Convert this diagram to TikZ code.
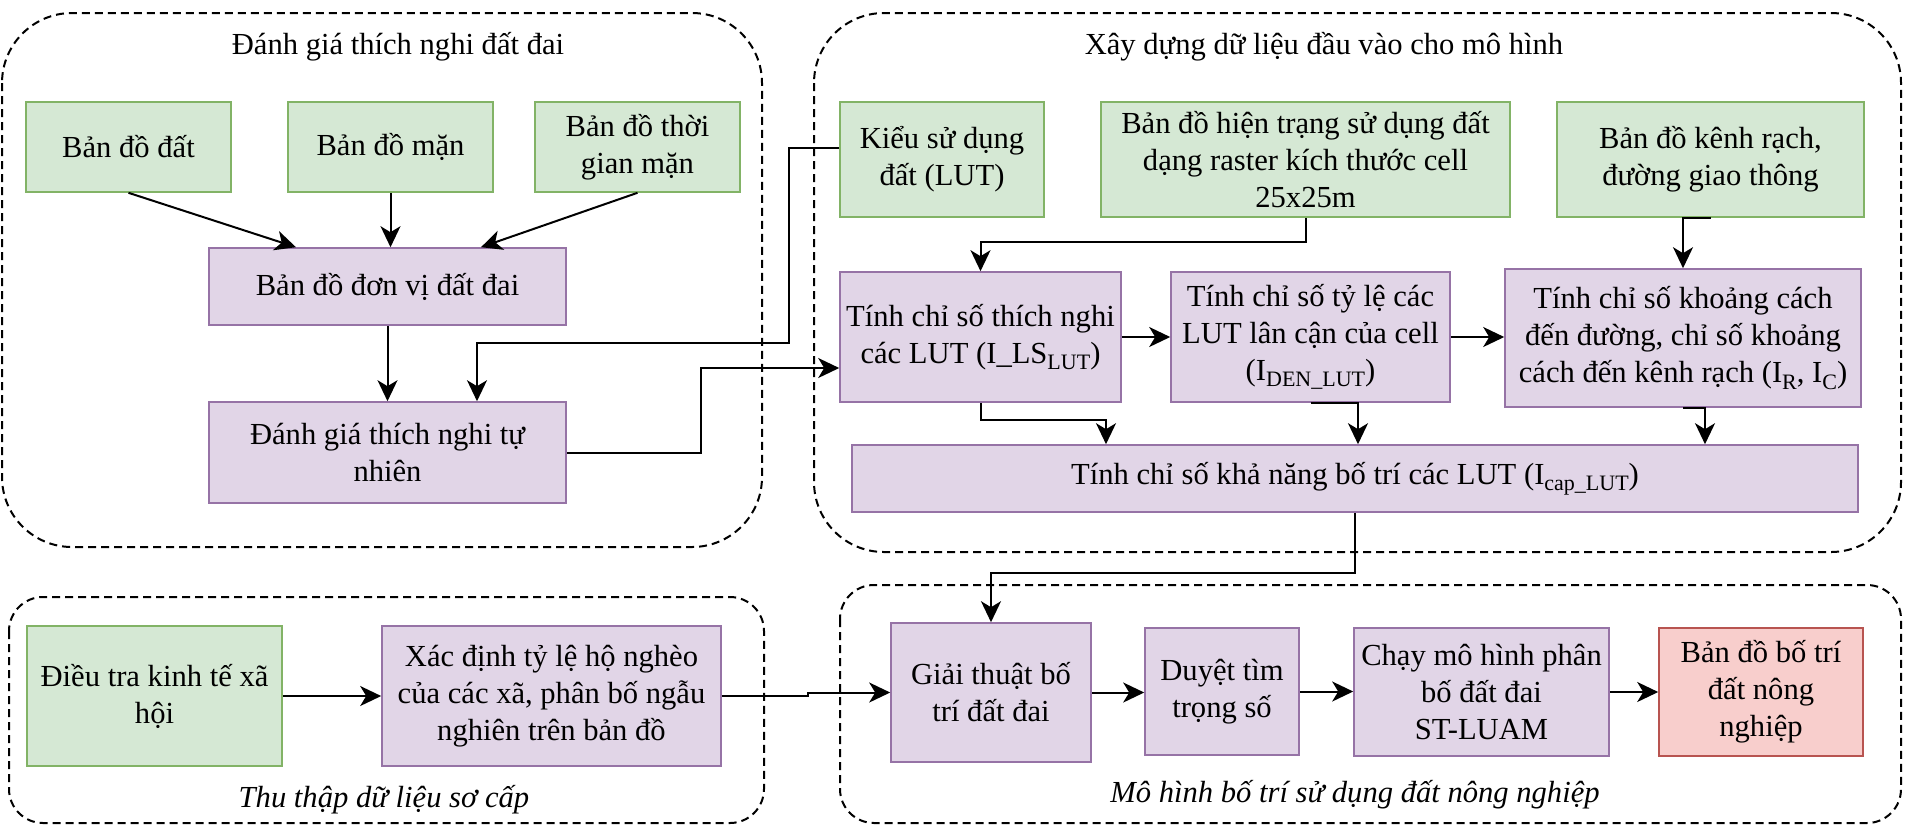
\documentclass[tikz,border=0pt]{standalone}
\usepackage{fontspec}
\setmainfont{Liberation Serif}
\usetikzlibrary{arrows.meta,calc}
\definecolor{gfill}{HTML}{D5E8D4}
\definecolor{gdraw}{HTML}{82B366}
\definecolor{pfill}{HTML}{E1D5E7}
\definecolor{pdraw}{HTML}{9673A6}
\definecolor{rfill}{HTML}{F8CECC}
\definecolor{rdraw}{HTML}{B85450}
\newcommand{\lsub}[1]{\raisebox{-0.45ex}{\fontsize{11}{11}\selectfont #1}}
\begin{document}
\begin{tikzpicture}[x=0.5pt,y=-0.5pt,
  box/.style={draw, line width=0.8pt, align=center, inner sep=2pt, font=\fontsize{15.3}{18.5}\selectfont},
  gbox/.style={box, fill=gfill, draw=gdraw},
  pbox/.style={box, fill=pfill, draw=pdraw},
  rbox/.style={box, fill=rfill, draw=rdraw},
  grp/.style={draw=black, line width=1pt, dash pattern=on 4pt off 2.5pt},
  arr/.style={draw, line width=1pt, -{Stealth[length=10.5pt,width=10pt,inset=3pt]}},
  lbl/.style={font=\fontsize{15.3}{18.5}\selectfont},
  ilbl/.style={font=\fontsize{15.3}{18.5}\selectfont\itshape}]
\useasboundingbox (0,0) rectangle (1905,827);
% groups
\draw[grp, rounded corners=35pt] (2,13) rectangle (762,547);
\draw[grp, rounded corners=35pt] (814,13) rectangle (1901,552);
\draw[grp, rounded corners=17pt] (9,597) rectangle (764,823);
\draw[grp, rounded corners=17pt] (840,585) rectangle (1901,823);
\node[lbl] (t1) at (398,47) {Đánh giá thích nghi đất đai};
\node[lbl] (t2) at (1324,47) {Xây dựng dữ liệu đầu vào cho mô hình};
\node[ilbl] (t3) at (384,800) {Thu thập dữ liệu sơ cấp};
\node[ilbl] (t4) at (1355,795) {Mô hình bố trí sử dụng đất nông nghiệp};
% nodes
\node[gbox, minimum width=102.5pt, minimum height=45pt] (dat) at (128.5,147) {Bản đồ đất};
\node[gbox, minimum width=102.5pt, minimum height=45pt] (man) at (390.5,147) {Bản đồ mặn};
\node[gbox, minimum width=102.5pt, minimum height=45pt] (tgman) at (637.5,147) {Bản đồ thời\\gian mặn};
\node[pbox, minimum width=178.5pt, minimum height=38.5pt] (donvi) at (387.5,286.5) {Bản đồ đơn vị đất đai};
\node[pbox, minimum width=178.5pt, minimum height=50.5pt] (tunhien) at (387.5,452.5) {Đánh giá thích nghi tự\\nhiên};
\node[gbox, minimum width=102pt, minimum height=57.5pt] (lut) at (942,159.5) {Kiểu sử dụng\\đất (LUT)};
\node[gbox, minimum width=204.5pt, minimum height=57.5pt] (hientrang) at (1305.5,159.5) {Bản đồ hiện trạng sử dụng đất\\dạng raster kích thước cell\\25x25m};
\node[gbox, minimum width=153.5pt, minimum height=57.5pt] (kenh) at (1710.5,159.5) {Bản đồ kênh rạch,\\đường giao thông};
\node[pbox, minimum width=140.5pt, minimum height=65pt] (ls) at (980.5,337) {Tính chỉ số thích nghi\\các LUT (I\_LS\lsub{LUT})};
\node[pbox, minimum width=139.5pt, minimum height=65pt] (den) at (1310.5,337) {Tính chỉ số tỷ lệ các\\LUT lân cận của cell\\(I\lsub{DEN\_LUT})};
\node[pbox, minimum width=178pt, minimum height=69pt] (kc) at (1683,338) {Tính chỉ số khoảng cách\\đến đường, chỉ số khoảng\\cách đến kênh rạch (I\lsub{R}, I\lsub{C})};
\node[pbox, minimum width=503pt, minimum height=33.5pt] (cap) at (1355,478.5) {Tính chỉ số khả năng bố trí các LUT (I\lsub{cap\_LUT})};
\node[gbox, minimum width=127.5pt, minimum height=70pt] (dieutra) at (154.5,696) {Điều tra kinh tế xã\\hội};
\node[pbox, minimum width=169.5pt, minimum height=70pt] (xacdinh) at (551.5,696) {Xác định tỷ lệ hộ nghèo\\của các xã, phân bố ngẫu\\nghiên trên bản đồ};
\node[pbox, minimum width=100pt, minimum height=69.5pt] (giai) at (991,692.5) {Giải thuật bố\\trí đất đai};
\node[pbox, minimum width=77pt, minimum height=63.5pt] (duyet) at (1222,691.5) {Duyệt tìm\\trọng số};
\node[pbox, minimum width=127.5pt, minimum height=64pt] (chay) at (1481.5,692) {Chạy mô hình phân\\bố đất đai\\ST-LUAM};
\node[rbox, minimum width=102pt, minimum height=64pt] (bando) at (1761,692) {Bản đồ bố trí\\đất nông\\nghiệp};
% connectors
\draw[arr] (dat.south) -- ($(donvi.north)+(-91.5,0)$);
\draw[arr] (man.south) -- (man.south |- donvi.north);
\draw[arr] (tgman.south) -- ($(donvi.north)+(93.5,0)$);
\draw[arr] (donvi.south) -- (tunhien.north);
\draw[arr] ($(lut.west)+(0,-11.5)$) -| (789,343) -| ($(tunhien.north)+(89.5,0)$);
\draw[arr] (tunhien.east) -| ($(ls.west)+(-138,31)$) -- ($(ls.west)+(0,31)$);
\draw[arr] (hientrang.south) -- ++(0,24) -| (ls.north);
\draw[arr] (kenh.south) -| (kc.north);
\draw[arr] (ls.east) -- (den.west);
\draw[arr] (den.east) -- (den.east -| kc.west);
\draw[arr] (ls.south) -- ++(0,17) -| ($(cap.north)+(-249,0)$);
\draw[arr] (den.south) -| ($(cap.north)+(3,0)$);
\draw[arr] (kc.south) -| ($(cap.north)+(350,0)$);
\draw[arr] (cap.south) -- ++(0,60) -| (giai.north);
\draw[arr] (dieutra.east) -- (xacdinh.west);
\draw[arr] (xacdinh.east) -- ++(86,0) |- (giai.west);
\draw[arr] (giai.east) -- (giai.east -| duyet.west);
\draw[arr] (duyet.east) -- (duyet.east -| chay.west);
\draw[arr] (chay.east) -- (bando.west);
\end{tikzpicture}
\end{document}
